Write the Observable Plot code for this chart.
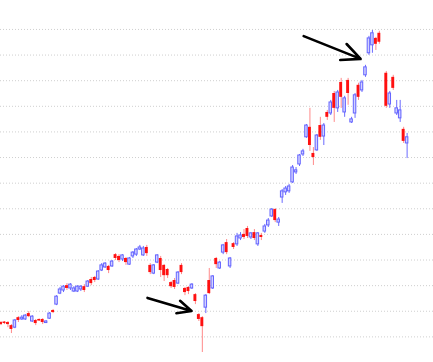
<!DOCTYPE html>
<html>
<head>
<meta charset="utf-8">
<script src="https://cdn.jsdelivr.net/npm/d3@7"></script>
<script src="https://cdn.jsdelivr.net/npm/@observablehq/plot@0.6"></script>
<style>
  html, body { margin: 0; padding: 0; background: #fff; }
  #chart svg { display: block; }
</style>
</head>
<body>
<div id="chart"></div>
<script>
// Trading-day index (one missing session at 110)
const days = d3.range(0, 110).concat(d3.range(111, 118));

const open = [
  105.6,105.8,105.6,104.4,103.6,107.5,106.8,106.8,109.1,106.0,
  106.4,106.8,106.8,105.4,107.1,110.3,112.6,116.9,118.1,120.0,
  118.9,117.7,117.7,118.5,119.6,119.6,122.4,123.2,122.4,125.9,
  127.1,127.5,127.5,132.1,131.4,130.2,130.6,128.2,131.4,132.1,
  134.1,131.8,134.9,127.9,124.7,129.0,130.6,127.9,126.3,121.2,
  122.0,120.8,127.9,118.9,119.3,118.9,116.5,108.7,107.5,111.4,
  122.0,118.9,130.6,126.7,132.9,136.8,127.5,136.4,136.1,138.4,
  140.0,142.3,138.8,140.7,136.1,139.6,141.1,143.5,147.0,149.7,
  144.6,154.4,156.4,156.8,160.3,164.2,167.3,171.2,177.9,181.8,
  171.6,172.8,182.5,178.2,187.6,187.2,195.0,189.2,199.3,187.6,
  200.1,183.7,187.2,198.2,196.2,202.1,210.7,213.8,216.5,218.5,
  202.9,190.7,201.3,187.2,185.3,181.0,175.5
];
const high = [
  106.0,106.0,106.0,104.8,106.8,107.9,108.3,108.7,109.9,108.3,
  106.8,107.0,107.1,106.4,109.5,110.7,116.1,119.3,120.0,120.8,
  120.8,119.6,120.0,120.0,120.4,122.0,123.2,123.6,125.9,128.6,
  129.0,127.9,129.8,132.5,132.1,132.1,131.0,131.0,133.3,134.5,
  135.7,135.3,135.7,128.6,128.2,132.1,131.4,128.2,126.7,121.6,
  122.8,125.5,128.6,119.3,119.6,120.8,116.9,109.1,107.9,116.5,
  126.7,123.9,131.0,129.4,136.1,138.0,131.0,136.8,140.4,140.7,
  141.9,143.1,140.7,141.9,140.7,140.4,143.9,146.2,150.1,150.1,
  146.6,157.5,158.7,159.5,166.9,166.1,171.2,173.2,182.9,189.2,
  173.9,179.0,185.7,183.3,188.4,192.3,195.8,196.2,200.9,193.9,
  200.9,185.7,195.0,199.0,200.1,206.0,217.3,219.6,216.9,219.3,
  203.6,195.8,202.1,192.3,192.3,181.8,179.4
];
const low = [
  104.4,104.8,103.6,101.3,103.2,105.6,106.4,106.4,107.5,105.6,
  104.4,106.0,104.8,105.2,106.8,109.1,112.2,116.5,117.3,118.1,
  118.1,117.3,117.3,117.7,117.3,119.3,120.0,121.2,122.0,125.5,
  126.7,124.7,127.1,129.8,129.0,129.4,127.9,127.9,130.6,131.4,
  133.7,131.4,131.4,124.3,124.3,128.6,123.2,121.6,122.8,118.9,
  118.5,120.4,124.3,116.1,116.5,118.5,112.6,106.0,93.9,109.1,
  116.5,118.5,126.7,126.3,132.1,132.1,126.7,134.1,135.3,137.6,
  138.0,138.4,138.0,137.6,135.3,137.6,140.4,142.7,146.6,144.6,
  143.1,152.1,155.2,156.0,159.9,163.4,166.5,170.4,177.5,172.4,
  166.9,172.4,176.7,174.7,184.5,186.4,183.7,187.6,189.2,185.7,
  190.4,183.3,185.3,192.3,195.4,201.3,209.9,210.7,211.8,214.2,
  189.2,189.2,196.2,186.4,183.7,175.5,169.6
];
const close = [
  104.8,105.2,104.8,102.9,106.4,106.4,107.5,108.3,107.9,107.9,
  105.2,106.2,105.6,106.0,109.1,109.5,115.7,118.5,119.6,118.9,
  120.4,118.9,119.6,119.6,118.1,121.6,120.8,122.0,125.5,127.9,
  128.6,125.9,129.4,130.6,129.8,131.8,129.0,130.6,132.9,134.1,
  134.9,134.5,132.5,125.1,127.9,131.8,125.9,123.9,123.9,119.6,
  119.3,125.1,125.1,117.3,117.7,120.4,113.8,106.8,104.0,116.1,
  116.9,123.6,128.2,129.0,135.7,132.9,130.6,134.9,139.2,139.6,
  138.8,139.2,140.4,138.4,140.4,138.8,143.1,145.4,149.7,145.4,
  145.8,156.8,157.9,158.7,166.1,165.0,170.8,172.4,182.5,174.7,
  170.0,178.6,177.9,182.5,185.7,191.5,189.2,195.4,193.5,193.1,
  195.0,184.9,194.3,193.5,199.3,205.2,216.5,218.5,214.2,215.0,
  190.0,195.0,197.0,189.2,188.4,176.3,177.9
];

// Gridline levels
const gridLevels = [100,110,120,130,140,150,160,170,180,190,200,210,220];

// Annotation arrows (data units)
const arrowX1 = [42.2, 87.2];
const arrowY1 = [115.2, 217.4];
const arrowX2 = [54.9, 103.6];
const arrowY2 = [110.1, 208.5];

const candles = days.map((d, k) => ({
  day: d, open: open[k], high: high[k], low: low[k], close: close[k],
  up: close[k] >= open[k]
}));
const ups = candles.filter(c => c.up);
const downs = candles.filter(c => !c.up);
const arrows = arrowX1.map((x, k) => ({x1: x, y1: arrowY1[k], x2: arrowX2[k], y2: arrowY2[k]}));

const chart = Plot.plot({
  width: 433,
  height: 362,
  margin: 0,
  x: {domain: [-0.15, 124.6], axis: null},
  y: {domain: [90, 231.3], axis: null},
  marks: [
    Plot.ruleY(gridLevels, {stroke: "#cfcfcf", strokeWidth: 1, strokeDasharray: "1,2"}),
    Plot.ruleX(downs, {x: "day", y1: "low", y2: "high", stroke: "#ff8a8a", strokeWidth: 1}),
    Plot.ruleX(ups, {x: "day", y1: "low", y2: "high", stroke: "#6a6aff", strokeWidth: 1}),
    Plot.rect(downs, {x1: d => d.day - 0.42, x2: d => d.day + 0.42, y1: "open", y2: "close", fill: "#ff1010", inset: 0}),
    Plot.rect(ups, {x1: d => d.day - 0.36, x2: d => d.day + 0.36, y1: "open", y2: "close", fill: "#d2d2ff", stroke: "#6464ff", strokeWidth: 1, inset: 0}),
    Plot.arrow(arrows, {x1: "x1", y1: "y1", x2: "x2", y2: "y2", stroke: "black", strokeWidth: 2.6, headLength: 15, headAngle: 50})
  ]
});
document.getElementById("chart").appendChild(chart);
</script>
</body>
</html>
